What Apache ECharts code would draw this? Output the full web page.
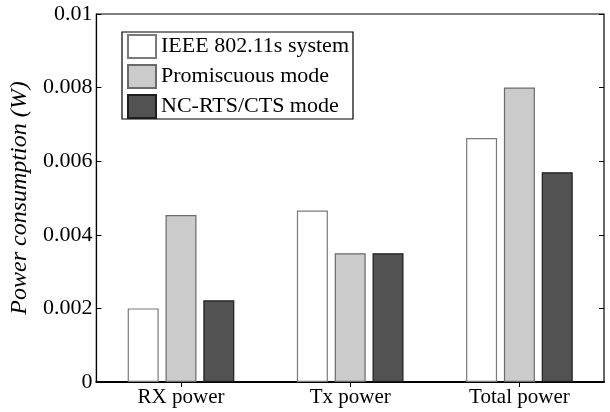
<!DOCTYPE html>
<html>
<head>
<meta charset="utf-8">
<script src="https://cdn.jsdelivr.net/npm/echarts@6/dist/echarts.min.js"></script>
<style>
  html, body { margin: 0; padding: 0; background: #fff; }
  #chart { width: 610px; height: 412px; }
</style>
</head>
<body>
<div id="chart"></div>
<script>
// data
const categories = ['RX power', 'Tx power', 'Total power']
const ieeeSystem = [0.0020, 0.00466, 0.00663]
const promiscuous = [0.00454, 0.0035, 0.0080]
const ncRtsCts = [0.00222, 0.0035, 0.0057]
const seriesNames = ['IEEE 802.11s system', 'Promiscuous mode', 'NC-RTS/CTS mode']
const yMin = 0, yMax = 0.01, yStep = 0.002

const font = 'Liberation Serif, Times New Roman, serif'
const chart = echarts.init(document.getElementById('chart'))

function barSeries (name, data, fill, border) {
  return {
    name: name,
    type: 'bar',
    xAxisIndex: 0,
    yAxisIndex: 0,
    barWidth: 31,
    barGap: '22%',
    itemStyle: { color: fill, borderColor: border, borderWidth: 1.2 },
    data: data
  }
}

chart.setOption({
  animation: false,
  textStyle: { fontFamily: font },
  grid: {
    left: 93, right: 6, top: 14, bottom: 30,
    show: true, borderColor: '#000', borderWidth: 1.2, backgroundColor: 'transparent'
  },
  legend: {
    orient: 'vertical',
    left: 122, top: 32,
    icon: 'rect',
    itemWidth: 28, itemHeight: 23, itemGap: 5,
    padding: [2, 4, 0, 5],
    borderColor: '#000', borderWidth: 1.2,
    textStyle: { fontFamily: font, fontSize: 22, color: '#000', lineHeight: 23 },
    data: seriesNames
  },
  xAxis: [{
    type: 'category',
    data: categories,
    axisLine: { lineStyle: { color: '#000', width: 2 } },
    axisTick: { show: false },
    axisLabel: { color: '#000', fontSize: 21, fontFamily: font, margin: 5 }
  }, {
    type: 'category',
    position: 'top',
    data: categories,
    axisLine: { show: false },
    axisTick: { show: true, inside: true, alignWithLabel: true, length: 5, lineStyle: { color: '#000' } },
    axisLabel: { show: false }
  }],
  yAxis: [{
    type: 'value',
    min: yMin, max: yMax, interval: yStep,
    name: 'Power consumption (W)',
    nameLocation: 'middle',
    nameGap: 59,
    nameTextStyle: { fontFamily: font, fontStyle: 'italic', fontSize: 24, color: '#000' },
    axisLine: { show: true, lineStyle: { color: '#000', width: 1.2 } },
    axisTick: { show: true, inside: true, length: 5, lineStyle: { color: '#000' } },
    splitLine: { show: false },
    axisLabel: {
      color: '#000', fontSize: 22, fontFamily: font, margin: 4,
      formatter: function (v) { return v === 0 ? '0' : String(+v.toFixed(4)) }
    }
  }, {
    type: 'value',
    position: 'right',
    min: yMin, max: yMax, interval: yStep,
    axisLine: { show: false },
    axisTick: { show: true, inside: true, length: 5, lineStyle: { color: '#000' } },
    splitLine: { show: false },
    axisLabel: { show: false }
  }],
  series: [
    barSeries(seriesNames[0], ieeeSystem, '#ffffff', '#7a7a7a'),
    barSeries(seriesNames[1], promiscuous, '#cbcbcb', '#6a6a6a'),
    barSeries(seriesNames[2], ncRtsCts, '#525252', '#1e1e1e')
  ]
})
</script>
</body>
</html>
